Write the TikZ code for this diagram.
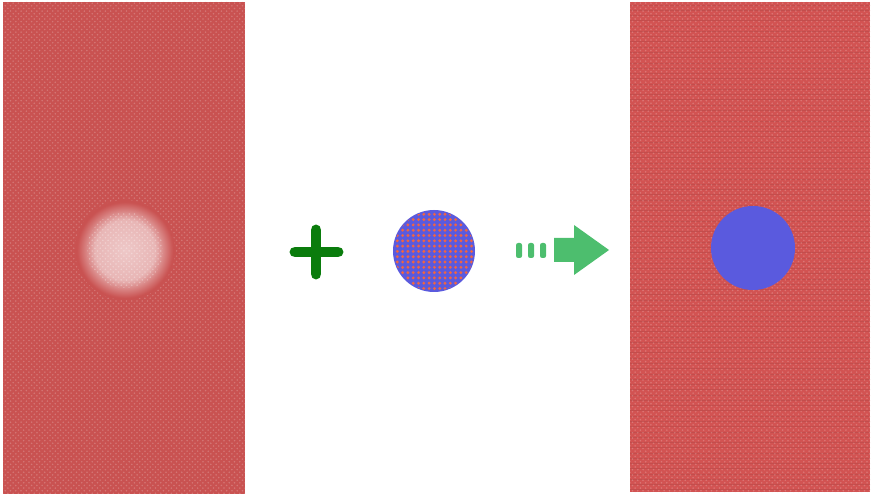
\documentclass[tikz,border=0pt]{standalone}
\usepackage{tikz}
\usetikzlibrary{patterns}

\definecolor{slabred}{HTML}{C95251}
\definecolor{slabredB}{HTML}{D25352}
\definecolor{plusgreen}{HTML}{0A7C0C}
\definecolor{arrowgreen}{HTML}{4DBE6E}
\definecolor{dotblue}{HTML}{5A5ADE}
\definecolor{dotorange}{HTML}{EE6444}
\colorlet{holepink}{white!68!slabred}

\pgfdeclareradialshading{holefade}{\pgfpoint{0bp}{0bp}}{%
  color(0bp)=(holepink); color(15bp)=(holepink!85!slabred);
  color(24bp)=(slabred); color(50bp)=(slabred)}

\begin{document}
\begin{tikzpicture}[
  x=0.02cm, y=-0.02cm,
  slab/.style={fill=slabred},
  texture/.style={pattern=crosshatch dots, pattern color=white!60!slabred},
  dash bar/.style={fill=arrowgreen, rounded corners=1.2pt},
]
  \useasboundingbox (0,0) rectangle (872,496);

  % Left: slab with a faded hole
  \fill[slab] (3,2) rectangle (245,494);
  \fill[texture, opacity=0.35] (3,2) rectangle (245,494);
  \shade[shading=holefade] (125,250) circle (50);
  \fill[pattern=crosshatch dots, pattern color=white, opacity=0.3] (125,250) circle (38);

  % Plus sign
  \draw[plusgreen, line width=11pt*0.02/0.0352778, line cap=round]
    (295,252) -- (338,252) (316,230) -- (316,274);

  % Patch: blue disc with orange dots
  \fill[dotblue] (434,251) circle (41);
  \begin{scope}
    \clip (434,251) circle (40);
    \foreach \i in {0,...,16}
      \foreach \j in {0,...,16}
        \fill[dotorange] (392+\i*5.3,209+\j*5.3) circle (1.6);
  \end{scope}

  % Arrow: three dashes and a block arrow
  \foreach \xa in {516,528,540}
    \fill[dash bar] (\xa,243) rectangle ++(6,15);
  \fill[arrowgreen] (554,238) -- (574,238) -- (574,225) -- (609,250)
    -- (574,275) -- (574,262) -- (554,262) -- cycle;

  % Right: healed slab
  \fill[slabredB] (630,2) rectangle (870,492);
  \fill[pattern=horizontal lines, pattern color=slabred!80!black, opacity=0.3] (630,2) rectangle (870,492);
  \fill[pattern=crosshatch dots, pattern color=white!70!slabredB, opacity=0.3] (630,2) rectangle (870,492);
  \fill[dotblue] (753,248) circle (42);
\end{tikzpicture}
\end{document}
